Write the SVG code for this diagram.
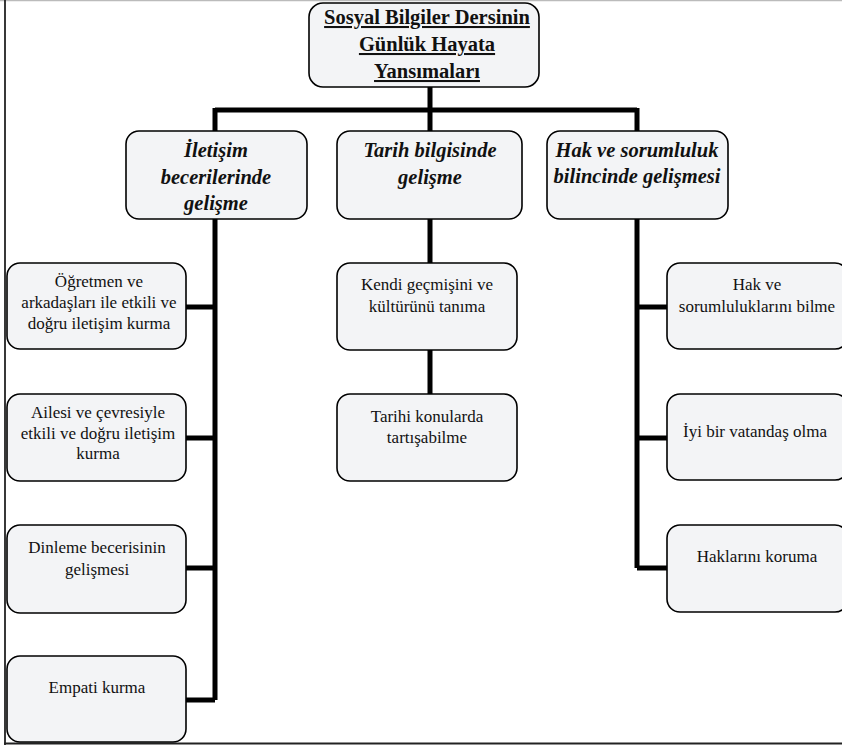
<svg xmlns="http://www.w3.org/2000/svg" width="842" height="747" viewBox="0 0 842 747">
<style>
.box{fill:#f3f4f6;stroke:#000;stroke-width:1.6}
.t{font-family:"Liberation Serif","Times New Roman",serif;font-size:17px;fill:#111;text-anchor:middle}
.h{font-family:"Liberation Serif","Times New Roman",serif;font-size:20.5px;font-weight:bold;font-style:italic;fill:#111;text-anchor:middle}
.ti{font-family:"Liberation Serif","Times New Roman",serif;font-size:20.5px;font-weight:bold;fill:#111;text-anchor:middle;text-decoration:underline}
.c{fill:none;stroke:#000;stroke-width:5}
</style>
<rect x="0" y="0" width="842" height="747" fill="#fff"/>
<line x1="0" y1="0.5" x2="842" y2="0.5" stroke="#bbb" stroke-width="1.5"/>
<line x1="5" y1="0" x2="5" y2="745" stroke="#222" stroke-width="1.8"/>
<line x1="4" y1="743.5" x2="842" y2="743.5" stroke="#222" stroke-width="1.8"/>
<g id="connectors">
<path class="c" d="M430 87V110M215 110H637M215 108V131M430 108V131M637 108V131"/>
<path class="c" d="M215 219V700M186 307H215M186 438H215M186 568H215M186 700H215"/>
<path class="c" d="M430 219V263M430 350V394"/>
<path class="c" d="M637 219V568M637 307H667M637 438H667M637 568H667"/>
</g>
<g id="root">
<rect class="box" x="309" y="3" width="230" height="84" rx="14"/>
<text class="ti" x="427" y="24">Sosyal Bilgiler Dersinin</text>
<text class="ti" x="427" y="51">Günlük Hayata</text>
<text class="ti" x="427" y="78">Yansımaları</text>
</g>
<g id="n-iletisim">
<rect class="box" x="126" y="131" width="181" height="88" rx="13"/>
<text class="h" x="216" y="157">İletişim</text>
<text class="h" x="216" y="184">becerilerinde</text>
<text class="h" x="216" y="210">gelişme</text>
</g>
<g id="n-tarih">
<rect class="box" x="337" y="131" width="185" height="88" rx="13"/>
<text class="h" x="430" y="157">Tarih bilgisinde</text>
<text class="h" x="430" y="184">gelişme</text>
</g>
<g id="n-hak">
<rect class="box" x="547" y="131" width="181" height="88" rx="13"/>
<text class="h" x="637" y="157">Hak ve sorumluluk</text>
<text class="h" x="637" y="183">bilincinde gelişmesi</text>
</g>
<g id="n-ogretmen">
<rect class="box" x="7" y="263" width="179" height="86" rx="13"/>
<text class="t" x="99" y="287">Öğretmen ve</text>
<text class="t" x="99" y="308">arkadaşları ile etkili ve</text>
<text class="t" x="99" y="329">doğru iletişim kurma</text>
</g>
<g id="n-ailesi">
<rect class="box" x="7" y="394" width="179" height="87" rx="13"/>
<text class="t" x="98" y="418">Ailesi ve çevresiyle</text>
<text class="t" x="98" y="439">etkili ve doğru iletişim</text>
<text class="t" x="98" y="459">kurma</text>
</g>
<g id="n-dinleme">
<rect class="box" x="7" y="525" width="179" height="88" rx="13"/>
<text class="t" x="97" y="553">Dinleme becerisinin</text>
<text class="t" x="97" y="575">gelişmesi</text>
</g>
<g id="n-empati">
<rect class="box" x="7" y="656" width="179" height="86" rx="13"/>
<text class="t" x="97" y="693">Empati kurma</text>
</g>
<g id="n-kendi">
<rect class="box" x="337" y="263" width="180" height="87" rx="13"/>
<text class="t" x="427" y="290">Kendi geçmişini ve</text>
<text class="t" x="427" y="312">kültürünü tanıma</text>
</g>
<g id="n-tarihi">
<rect class="box" x="337" y="394" width="180" height="87" rx="13"/>
<text class="t" x="427" y="422">Tarihi konularda</text>
<text class="t" x="427" y="443">tartışabilme</text>
</g>
<g id="n-haksor">
<rect class="box" x="667" y="263" width="181" height="86" rx="13"/>
<text class="t" x="757" y="290">Hak ve</text>
<text class="t" x="757" y="312">sorumluluklarını bilme</text>
</g>
<g id="n-iyi">
<rect class="box" x="667" y="394" width="181" height="86" rx="13"/>
<text class="t" x="755" y="437">İyi bir vatandaş olma</text>
</g>
<g id="n-haklarini">
<rect class="box" x="667" y="525" width="181" height="87" rx="13"/>
<text class="t" x="757" y="562">Haklarını koruma</text>
</g>
</svg>
